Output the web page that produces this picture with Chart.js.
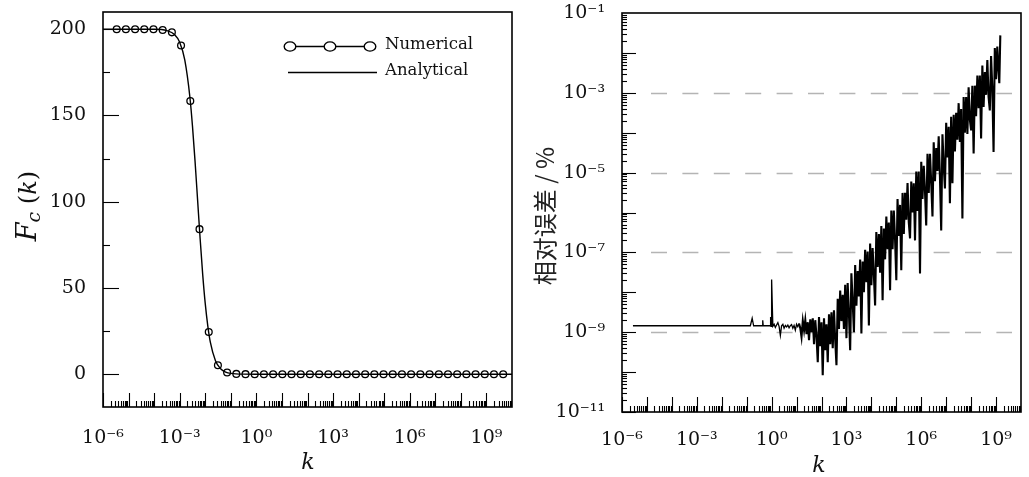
<!DOCTYPE html>
<html>
<head>
    <meta charset="UTF-8">
    <title>Fc(k) and relative error</title>
    <script src="https://cdn.jsdelivr.net/npm/chart.js"></script>
    <style>
        * { margin: 0; padding: 0; box-sizing: border-box; }
        body { background: #fff; width: 1029px; height: 477px; overflow: hidden; }
        .panel { position: absolute; top: 0; height: 477px; }
        #leftPanel { left: 0; width: 520px; }
        #rightPanel { left: 520px; width: 509px; }
    </style>
</head>
<body>

<div class="panel" id="leftPanel"><canvas id="fcChart" width="520" height="477"></canvas></div>
<div class="panel" id="rightPanel"><canvas id="errChart" width="509" height="477"></canvas></div>

<script>
    const SERIF = '"DejaVu Serif", "Liberation Serif", serif';
    const CJK = '"Noto Sans CJK SC", "Noto Sans", sans-serif';

    // ---- left panel: Fc(k) ----
    const numK = [3.43e-6, 7.85e-6, 1.8e-5, 4.12e-5, 9.44e-5, 2.16e-4, 4.95e-4, 1.13e-3, 2.6e-3, 5.96e-3,
        1.37e-2, 3.13e-2, 7.16e-2, 0.164, 0.376, 0.861, 1.97, 4.52, 10.4, 23.7,
        54.3, 124, 285, 653, 1.5e3, 3.43e3, 7.85e3, 1.8e4, 4.12e4, 9.44e4,
        2.16e5, 4.95e5, 1.13e6, 2.6e6, 5.96e6, 1.37e7, 3.13e7, 7.16e7, 1.64e8, 3.76e8,
        8.61e8, 1.97e9, 4.52e9];
    const numF = [200, 200, 200, 200, 200, 199.6, 198.2, 190.6, 158.4, 84.1,
        24.5, 5.2, 1.0, 0.2, 0.05, 0, 0, 0, 0, 0,
        0, 0, 0, 0, 0, 0, 0, 0, 0, 0,
        0, 0, 0, 0, 0, 0, 0, 0, 0, 0,
        0, 0, 0];

    const analyticK = [1e-6, 1e-4, 3.16e-4, 6.31e-4, 1e-3, 1.58e-3, 2.51e-3, 3.16e-3, 3.98e-3, 5.01e-3,
        6.31e-3, 7.94e-3, 1e-2, 1.26e-2, 1.58e-2, 2.51e-2, 3.98e-2, 6.31e-2, 0.1, 0.316, 1, 1e10];
    const analyticF = [200, 200, 199.2, 196.9, 192.5, 182.2, 160.6, 144.0, 123.7, 101.2,
        78.5, 57.9, 40.9, 27.9, 18.6, 7.84, 3.19, 1.28, 0.51, 0.05, 0.01, 0];

    const fcTicks = [0, 50, 100, 150, 200];
    const fcMinorTicks = [25, 75, 125, 175];
    const kTicks = [1e-6, 1e-3, 1, 1e3, 1e6, 1e9];
    const kTickLabels = ['10⁻⁶', '10⁻³', '10⁰', '10³', '10⁶', '10⁹'];
    const legendLabels = ['Numerical', 'Analytical'];

    // ---- right panel: relative error ----
    const errK = [
        2.75e-6, 0.14, 0.166, 0.19, 0.42, 0.44, 0.46, 0.87, 0.91, 0.95, 1.0,
        1.12e0, 1.26e0, 1.41e0, 1.58e0, 1.78e0, 2e0, 2.24e0, 2.51e0, 2.82e0, 3.16e0, 3.55e0, 3.98e0, 4.47e0, 5.01e0, 5.62e0, 6.31e0, 7.08e0, 7.94e0, 8.91e0,
        1e1, 1.12e1, 1.26e1, 1.41e1, 1.58e1, 1.78e1, 2e1, 2.24e1, 2.51e1, 2.82e1, 3.16e1, 3.55e1, 3.98e1, 4.47e1, 5.01e1, 5.62e1, 6.31e1, 7.08e1, 7.94e1, 8.91e1,
        1e2, 1.12e2, 1.26e2, 1.41e2, 1.58e2, 1.78e2, 2e2, 2.24e2, 2.51e2, 2.82e2, 3.16e2, 3.55e2, 3.98e2, 4.47e2, 5.01e2, 5.62e2, 6.31e2, 7.08e2, 7.94e2, 8.91e2,
        1e3, 1.12e3, 1.26e3, 1.41e3, 1.58e3, 1.78e3, 2e3, 2.24e3, 2.51e3, 2.82e3, 3.16e3, 3.55e3, 3.98e3, 4.47e3, 5.01e3, 5.62e3, 6.31e3, 7.08e3, 7.94e3, 8.91e3,
        1e4, 1.12e4, 1.26e4, 1.41e4, 1.58e4, 1.78e4, 2e4, 2.24e4, 2.51e4, 2.82e4, 3.16e4, 3.55e4, 3.98e4, 4.47e4, 5.01e4, 5.62e4, 6.31e4, 7.08e4, 7.94e4, 8.91e4,
        1e5, 1.12e5, 1.26e5, 1.41e5, 1.58e5, 1.78e5, 2e5, 2.24e5, 2.51e5, 2.82e5, 3.16e5, 3.55e5, 3.98e5, 4.47e5, 5.01e5, 5.62e5, 6.31e5, 7.08e5, 7.94e5, 8.91e5,
        1e6, 1.12e6, 1.26e6, 1.41e6, 1.58e6, 1.78e6, 2e6, 2.24e6, 2.51e6, 2.82e6, 3.16e6, 3.55e6, 3.98e6, 4.47e6, 5.01e6, 5.62e6, 6.31e6, 7.08e6, 7.94e6, 8.91e6,
        1e7, 1.12e7, 1.26e7, 1.41e7, 1.58e7, 1.78e7, 2e7, 2.24e7, 2.51e7, 2.82e7, 3.16e7, 3.55e7, 3.98e7, 4.47e7, 5.01e7, 5.62e7, 6.31e7, 7.08e7, 7.94e7, 8.91e7,
        1e8, 1.12e8, 1.26e8, 1.41e8, 1.58e8, 1.78e8, 2e8, 2.24e8, 2.51e8, 2.82e8, 3.16e8, 3.55e8, 3.98e8, 4.47e8, 5.01e8, 5.62e8, 6.31e8, 7.08e8, 7.94e8, 8.91e8,
        1e9, 1.12e9, 1.26e9, 1.35e9, 1.48e9
    ];
    const errVal = [
        1.45e-9, 1.45e-9, 2.24e-9, 1.45e-9, 1.45e-9, 2.0e-9, 1.45e-9, 1.45e-9, 2.4e-9, 1.4e-9, 2.1e-8,
        1.41e-9, 1.58e-9, 1.32e-9, 1.51e-9, 1.74e-9, 1.38e-9, 8.3e-10, 1.45e-9, 1.58e-9, 1.26e-9, 1.48e-9, 1.35e-9, 1.51e-9, 1.29e-9, 1.45e-9, 1.55e-9, 1.26e-9, 1.48e-9, 1.12e-9,
        1.58e-9, 1.38e-9, 1.66e-9, 1.26e-9, 7.6e-10, 1.91e-9, 1.12e-9, 2.0e-9, 8.9e-10, 1.78e-9, 6.3e-10, 2.09e-9, 1.0e-9, 2.24e-9, 5.0e-10, 2.0e-9, 7.9e-10, 1.78e-10, 2.4e-9, 4.47e-10,
        1.78e-9, 8.3e-11, 2.24e-9, 3.55e-10, 1.58e-9, 1.78e-10, 2.82e-9, 5.0e-10, 3.16e-9, 3.98e-10, 3.55e-9, 6.3e-10, 1.48e-10, 6.9e-9, 1.2e-9, 1.1e-8, 1.9e-9, 8.7e-9, 1.2e-9, 1.55e-8,
        7.1e-10, 1.7e-8, 2.9e-9, 3.55e-10, 3.0e-8, 5.7e-9, 1.0e-9, 4.8e-8, 4.6e-9, 3.4e-8, 7.9e-9, 6.6e-8, 9.3e-10, 5.9e-8, 1.0e-8, 1.17e-7, 1.8e-8, 1.05e-7, 1.48e-9, 1.66e-7,
        1.5e-8, 1.29e-7, 2.7e-8, 4.68e-9, 3.24e-7, 4.3e-8, 2.88e-7, 3.1e-8, 4.57e-7, 6.3e-9, 3.98e-7, 6.7e-8, 7.9e-7, 1.2e-7, 5.6e-7, 1.12e-8, 1.12e-6, 1.2e-7, 1.12e-6, 2.1e-7,
        2.0e-8, 2.19e-6, 2.6e-7, 1.55e-6, 3.55e-8, 3.1e-6, 2.9e-7, 3.1e-6, 6.6e-7, 5.5e-6, 5.7e-7, 2.24e-7, 6.0e-6, 1.0e-6, 5.4e-6, 2.0e-7, 1.07e-5, 1.1e-6, 1.07e-5, 2.95e-8,
        1.86e-5, 2.2e-6, 1.48e-5, 3.5e-6, 4.7e-7, 2.95e-5, 3.1e-6, 2.95e-5, 5.6e-6, 7.9e-7, 5.75e-5, 6.1e-6, 4.1e-5, 1.1e-5, 8.1e-5, 7.7e-6, 3.55e-7, 9.1e-5, 1.5e-5, 3.98e-6,
        1.78e-4, 2.4e-5, 1.41e-4, 1.7e-6, 2.51e-4, 5.4e-6, 2.82e-4, 3.4e-5, 3.16e-4, 6.7e-5, 5.5e-4, 5.9e-5, 3.9e-4, 7.1e-7, 7.8e-4, 1.0e-4, 7.8e-4, 9.3e-5, 1.38e-3, 2.1e-4,
        1.15e-4, 1.51e-3, 3.0e-5, 1.51e-3, 2.6e-4, 2.7e-3, 4.1e-4, 2.7e-3, 7.2e-5, 4.8e-3, 4.4e-4, 3.3e-3, 8.9e-4, 6.6e-3, 7.9e-4, 3.6e-4, 8.3e-3, 1.26e-3, 3.3e-5, 1.32e-2,
        2.2e-3, 1.45e-2, 3.5e-3, 1.74e-3, 2.75e-2
    ];

    const errTicks = [1e-11, 1e-9, 1e-7, 1e-5, 1e-3, 1e-1];
    const errTickLabels = ['10⁻¹¹', '10⁻⁹', '10⁻⁷', '10⁻⁵', '10⁻³', '10⁻¹'];
    const errGridLines = [1e-9, 1e-7, 1e-5, 1e-3];

    function line(ctx, x1, y1, x2, y2) {
        ctx.beginPath();
        ctx.moveTo(x1, y1);
        ctx.lineTo(x2, y2);
        ctx.stroke();
    }

    // keep the plot box exactly where it is in the picture
    function fixBox(size) {
        return s => {
            if (s.isHorizontal()) s.height = size; else s.width = size;
            s.paddingTop = 0; s.paddingBottom = 0; s.paddingLeft = 0; s.paddingRight = 0;
        };
    }

    // inward tick marks + closed frame
    const frameTicks = {
        id: 'frameTicks',
        afterDraw(chart, args, o) {
            const { ctx, chartArea: a, scales } = chart;
            ctx.save();
            ctx.strokeStyle = '#000';
            ctx.lineWidth = 1.1;
            for (let e = -6; e < 10; e++) {
                for (let m = 1; m <= 9; m++) {
                    const x = Math.round(scales.x.getPixelForValue(m * Math.pow(10, e))) + 0.5;
                    line(ctx, x, a.bottom, x, a.bottom - (m === 1 ? o.xMajor : o.xMinor));
                }
            }
            if (o.yLog) {
                for (let e = -11; e < -1; e++) {
                    for (let m = 1; m <= 9; m++) {
                        const y = Math.round(scales.y.getPixelForValue(m * Math.pow(10, e))) + 0.5;
                        line(ctx, a.left, y, a.left + (m === 1 ? o.yMajor : o.yMinor), y);
                    }
                }
            } else {
                fcTicks.forEach(v => {
                    const y = Math.round(scales.y.getPixelForValue(v)) + 0.5;
                    line(ctx, a.left, y, a.left + o.yMajor, y);
                });
                fcMinorTicks.forEach(v => {
                    const y = Math.round(scales.y.getPixelForValue(v)) + 0.5;
                    line(ctx, a.left, y, a.left + o.yMinor, y);
                });
            }
            ctx.lineWidth = 1.6;
            ctx.strokeRect(a.left, a.top, a.right - a.left, a.bottom - a.top);
            ctx.restore();
        }
    };

    // dashed horizontal guides on the error plot
    const dashedGuides = {
        id: 'dashedGuides',
        beforeDatasetsDraw(chart, args, o) {
            if (!o.values) return;
            const { ctx, scales } = chart;
            ctx.save();
            ctx.strokeStyle = '#b4b4b4';
            ctx.lineWidth = 1.3;
            ctx.setLineDash([16, 15.4]);
            o.values.forEach(v => {
                const y = Math.round(scales.y.getPixelForValue(v)) + 0.5;
                line(ctx, o.from, y, o.to, y);
            });
            ctx.restore();
        }
    };

    // axis titles (k, Fc(k), 相对误差 / %) and the in-plot legend
    const axisText = {
        id: 'axisText',
        afterDraw(chart, args, o) {
            const { ctx } = chart;
            ctx.save();
            ctx.fillStyle = '#111';
            ctx.textAlign = 'center';
            ctx.textBaseline = 'middle';
            ctx.font = 'italic 22px ' + SERIF;
            ctx.fillText('k', o.kx, o.ky);

            if (o.fc) {
                const parts = [
                    { t: 'F', f: 'italic 27px ' + SERIF, dy: 0 },
                    { t: 'c', f: 'italic 19px ' + SERIF, dy: 4 },
                    { t: ' (', f: '24px ' + SERIF, dy: 0 },
                    { t: 'k', f: 'italic 24px ' + SERIF, dy: 0 },
                    { t: ')', f: '24px ' + SERIF, dy: 0 }
                ];
                let total = 0;
                parts.forEach(p => { ctx.font = p.f; p.w = ctx.measureText(p.t).width; total += p.w; });
                ctx.translate(36, 206);
                ctx.rotate(-Math.PI / 2);
                ctx.textAlign = 'left';
                ctx.textBaseline = 'alphabetic';
                let x = -total / 2;
                parts.forEach(p => { ctx.font = p.f; ctx.fillText(p.t, x, p.dy); x += p.w; });
                ctx.setTransform(1, 0, 0, 1, 0, 0);

                // legend
                ctx.strokeStyle = '#000';
                ctx.lineWidth = 1.4;
                line(ctx, 290, 46.5, 370, 46.5);
                [290, 330, 370].forEach(cx => {
                    ctx.beginPath();
                    ctx.ellipse(cx, 46.5, 5.8, 4.6, 0, 0, Math.PI * 2);
                    ctx.fillStyle = '#fff';
                    ctx.fill();
                    ctx.stroke();
                });
                line(ctx, 288, 72.5, 377, 72.5);
                ctx.fillStyle = '#111';
                ctx.font = '16.5px ' + SERIF;
                ctx.textAlign = 'left';
                ctx.textBaseline = 'middle';
                ctx.fillText(legendLabels[0], 385, 45);
                ctx.fillText(legendLabels[1], 385, 71);
            } else {
                ctx.translate(25, 216);
                ctx.rotate(-Math.PI / 2);
                ctx.font = '24px ' + CJK;
                ctx.fillStyle = '#222';
                ctx.fillText('相对误差 / %', 0, 0);
            }
            ctx.restore();
        }
    };

    const tickFont = { family: SERIF, size: 19 };

    new Chart(document.getElementById('fcChart'), {
        type: 'scatter',
        data: {
            datasets: [
                {
                    label: legendLabels[1],
                    data: analyticK.map((k, i) => ({ x: k, y: analyticF[i] })),
                    showLine: true,
                    cubicInterpolationMode: 'monotone',
                    borderColor: '#000',
                    borderWidth: 1.4,
                    pointRadius: 0
                },
                {
                    label: legendLabels[0],
                    data: numK.map((k, i) => ({ x: k, y: numF[i] })),
                    showLine: false,
                    pointStyle: 'circle',
                    pointRadius: 3.4,
                    pointBorderWidth: 1.3,
                    pointBorderColor: '#000',
                    pointBackgroundColor: 'rgba(0,0,0,0)'
                }
            ]
        },
        options: {
            responsive: false,
            animation: false,
            events: [],
            layout: { padding: { left: 0, top: 12, right: 8, bottom: 0 } },
            scales: {
                x: {
                    type: 'logarithmic',
                    min: 1e-6,
                    max: 1e10,
                    grid: { display: false, drawTicks: false },
                    border: { display: false },
                    afterBuildTicks: s => { s.ticks = kTicks.map(v => ({ value: v })); },
                    afterFit: fixBox(70),
                    ticks: {
                        autoSkip: false, maxRotation: 0, padding: 20, color: '#111', font: tickFont,
                        callback: (v, i) => kTickLabels[i]
                    }
                },
                y: {
                    min: -19,
                    max: 210,
                    grid: { display: false, drawTicks: false },
                    border: { display: false },
                    afterBuildTicks: s => { s.ticks = fcTicks.map(v => ({ value: v })); },
                    afterFit: fixBox(103),
                    ticks: { padding: 17, color: '#111', font: tickFont }
                }
            },
            plugins: {
                legend: { display: false },
                tooltip: { enabled: false },
                frameTicks: { xMajor: 14, xMinor: 6, yMajor: 16, yMinor: 7, yLog: false },
                axisText: { kx: 308, ky: 463, fc: true }
            }
        },
        plugins: [frameTicks, axisText]
    });

    new Chart(document.getElementById('errChart'), {
        type: 'scatter',
        data: {
            datasets: [{
                label: '相对误差',
                data: errK.map((k, i) => ({ x: k, y: errVal[i] })),
                showLine: true,
                borderColor: '#000',
                borderWidth: 1.3,
                segment: { borderWidth: c => (c.p0.parsed.x > 12 ? 2.1 : 1.3) },
                pointRadius: 0
            }]
        },
        options: {
            responsive: false,
            animation: false,
            events: [],
            layout: { padding: { left: 0, top: 13, right: 8, bottom: 0 } },
            scales: {
                x: {
                    type: 'logarithmic',
                    min: 1e-6,
                    max: 1e10,
                    grid: { display: false, drawTicks: false },
                    border: { display: false },
                    afterBuildTicks: s => { s.ticks = kTicks.map(v => ({ value: v })); },
                    afterFit: fixBox(65),
                    ticks: {
                        autoSkip: false, maxRotation: 0, padding: 17, color: '#111', font: tickFont,
                        callback: (v, i) => kTickLabels[i]
                    }
                },
                y: {
                    type: 'logarithmic',
                    min: 1e-11,
                    max: 1e-1,
                    grid: { display: false, drawTicks: false },
                    border: { display: false },
                    afterBuildTicks: s => { s.ticks = errTicks.map(v => ({ value: v })); },
                    afterFit: fixBox(102),
                    ticks: {
                        autoSkip: false, padding: 17, color: '#111', font: tickFont,
                        callback: (v, i) => errTickLabels[i]
                    }
                }
            },
            plugins: {
                legend: { display: false },
                tooltip: { enabled: false },
                dashedGuides: { values: errGridLines, from: 131, to: 492 },
                frameTicks: { xMajor: 15, xMinor: 6, yMajor: 14, yMinor: 5, yLog: true },
                axisText: { kx: 299, ky: 466, fc: false }
            }
        },
        plugins: [dashedGuides, frameTicks, axisText]
    });
</script>

</body>
</html>
